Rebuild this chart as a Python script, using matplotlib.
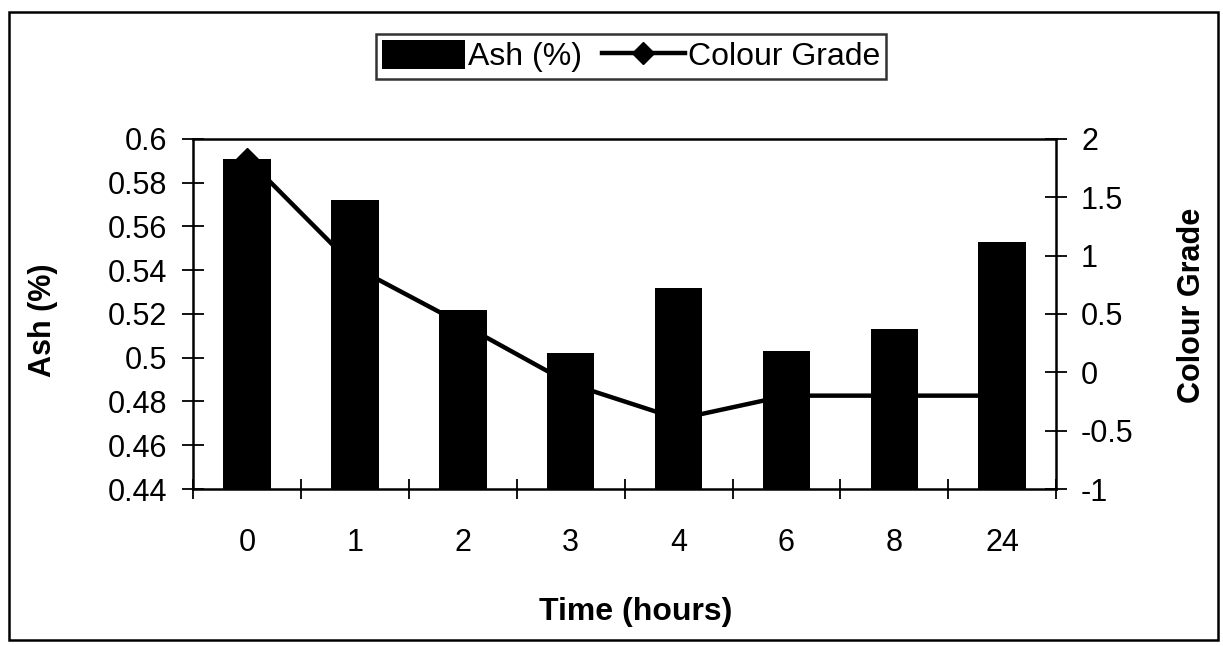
import numpy as np
import matplotlib.pyplot as plt
from matplotlib.patches import Rectangle

# ash content and colour grade over the washing time
times = ['0', '1', '2', '3', '4', '6', '8', '24']
ash = [0.591, 0.572, 0.522, 0.502, 0.532, 0.503, 0.513, 0.553]
colour_grade = [1.83, 0.9, 0.41, -0.1, -0.4, -0.2, -0.2, -0.2]

ash_ticks = [0.44, 0.46, 0.48, 0.5, 0.52, 0.54, 0.56, 0.58, 0.6]
grade_ticks = [-1, -0.5, 0, 0.5, 1, 1.5, 2]

plt.rcParams['font.family'] = ['Liberation Sans', 'DejaVu Sans']

fig = plt.figure(figsize=(12.23, 6.46), dpi=100)
ax = fig.add_axes([0.158, 0.243, 0.7055, 0.542])
x = np.arange(len(times))

ax.bar(x, ash, width=0.44, color='black', label='Ash (%)')
ax.set_xlim(-0.5, len(times) - 0.5)
ax.set_ylim(0.44, 0.6)
ax.set_yticks(ash_ticks)
ax.set_yticklabels([f'{t:g}' for t in ash_ticks])

# category labels in the middle, tick marks between the categories
ax.set_xticks(x)
ax.set_xticklabels(times)
ax.set_xticks(np.arange(-0.5, len(times)), minor=True)
ax.tick_params(axis='x', which='major', length=0, pad=28, labelsize=22)
ax.tick_params(axis='x', which='minor', direction='inout', length=14, width=1.3)
ax.tick_params(axis='y', direction='inout', length=16, width=1.3, pad=11, labelsize=22)

for side in ['left', 'bottom', 'top']:
    ax.spines[side].set_linewidth(1.8)
ax.spines['right'].set_visible(False)

ax2 = ax.twinx()
ax2.plot(x, colour_grade, color='black', lw=3.2, marker='D', markersize=11,
         label='Colour Grade')
ax2.set_ylim(-1, 2)
ax2.set_yticks(grade_ticks)
ax2.set_yticklabels([f'{t:g}' for t in grade_ticks])
ax2.tick_params(axis='y', direction='inout', length=16, width=1.3, pad=10, labelsize=22)
for side in ['left', 'bottom', 'top']:
    ax2.spines[side].set_visible(False)
ax2.spines['right'].set_linewidth(1.8)

fig.text(0.035, 0.505, 'Ash (%)', rotation=90, ha='center', va='center',
         fontsize=22, fontweight='bold')
fig.text(0.975, 0.528, 'Colour Grade', rotation=90, ha='center', va='center',
         fontsize=22, fontweight='bold')
fig.text(0.52, 0.053, 'Time (hours)', ha='center', va='center',
         fontsize=23, fontweight='bold')

h1, l1 = ax.get_legend_handles_labels()
h2, l2 = ax2.get_legend_handles_labels()
leg = fig.legend(h1 + h2, l1 + l2, loc='center', bbox_to_anchor=(0.516, 0.913),
                 ncol=2, fontsize=23, frameon=True, fancybox=False,
                 handlelength=2.6, handleheight=1.0, handletextpad=0.1,
                 columnspacing=0.6, borderpad=0.2, borderaxespad=0)
leg.get_frame().set_edgecolor('black')
leg.get_frame().set_linewidth(1.8)

# outer border around the whole chart
fig.patches.append(Rectangle((0.007, 0.01), 0.989, 0.972, transform=fig.transFigure,
                             fill=False, edgecolor='black', lw=1.8))

fig.savefig('out.png', dpi=100)
